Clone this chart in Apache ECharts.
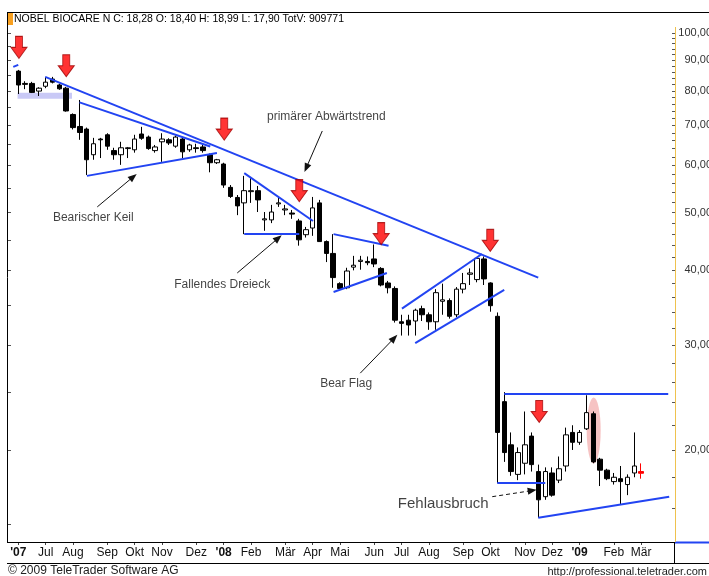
<!DOCTYPE html>
<html>
<head>
<meta charset="utf-8">
<title>NOBEL BIOCARE N</title>
<script src="https://cdn.jsdelivr.net/npm/echarts@6.0.0/dist/echarts.min.js"></script>
<style>
  html, body { margin: 0; padding: 0; background: #fff; }
  #chart { width: 709px; height: 576px; }
</style>
</head>
<body>
<div id="chart"></div>
<script>
// Wochenkerzen, Montag der jeweiligen Woche
var weeks = [
  '2007-06-04','2007-06-11','2007-06-18','2007-06-25','2007-07-02','2007-07-09','2007-07-16','2007-07-23','2007-07-30',
  '2007-08-06','2007-08-13','2007-08-20','2007-08-27','2007-09-03','2007-09-10','2007-09-17','2007-09-24',
  '2007-10-01','2007-10-08','2007-10-15','2007-10-22','2007-10-29','2007-11-05','2007-11-12','2007-11-19','2007-11-26',
  '2007-12-03','2007-12-10','2007-12-17','2007-12-24','2007-12-31','2008-01-07','2008-01-14','2008-01-21','2008-01-28',
  '2008-02-04','2008-02-11','2008-02-18','2008-02-25','2008-03-03','2008-03-10','2008-03-17','2008-03-24','2008-03-31',
  '2008-04-07','2008-04-14','2008-04-21','2008-04-28','2008-05-05','2008-05-12','2008-05-19','2008-05-26',
  '2008-06-02','2008-06-09','2008-06-16','2008-06-23','2008-06-30','2008-07-07','2008-07-14','2008-07-21','2008-07-28',
  '2008-08-04','2008-08-11','2008-08-18','2008-08-25','2008-09-01','2008-09-08','2008-09-15','2008-09-22','2008-09-29',
  '2008-10-06','2008-10-13','2008-10-20','2008-10-27','2008-11-03','2008-11-10','2008-11-17','2008-11-24',
  '2008-12-01','2008-12-08','2008-12-15','2008-12-22','2008-12-29','2009-01-05','2009-01-12','2009-01-19','2009-01-26',
  '2009-02-02','2009-02-09','2009-02-16','2009-02-23','2009-03-02'
];
var opens = [
  86.3,82.3,82.3,79.9,81.4,83.7,81.8,80.8,73.0,69.7,
  69.0,62.5,66.4,67.5,63.5,62.5,64.0,63.7,67.7,66.9,
  63.5,65.7,66.2,64.6,66.4,63.7,64.2,64.4,62.5,60.6,
  60.3,55.1,53.0,51.9,54.2,54.4,48.6,48.6,51.7,50.5,
  49.9,48.4,45.9,47.1,51.9,44.7,42.7,38.0,37.4,40.5,
  41.4,41.4,41.8,40.3,38.1,37.3,32.8,33.0,32.9,34.5,
  33.7,32.8,35.5,35.6,33.7,37.2,39.4,38.6,41.8,38.1,
  33.5,24.1,20.4,18.2,19.0,21.1,18.4,16.7,18.3,17.8,
  18.8,21.4,20.6,21.7,23.0,19.3,18.5,17.7,17.9,17.5,
  18.3,18.40
];
var closes = [
  81.8,82.0,79.5,80.8,82.7,82.7,80.6,74.0,69.4,68.1,
  61.3,65.2,66.2,64.6,62.5,64.2,64.2,66.4,66.6,64.0,
  64.4,66.4,65.4,66.9,63.2,64.9,64.0,63.5,60.6,61.3,
  55.6,53.2,51.3,54.4,54.4,52.5,48.8,50.1,51.9,50.7,
  49.7,45.0,46.8,50.9,44.7,42.7,38.9,37.3,39.9,40.8,
  41.6,41.2,41.0,37.8,37.4,33.0,32.6,32.4,34.3,33.7,
  32.8,36.7,35.7,33.5,37.2,38.0,39.6,41.9,38.7,34.9,
  21.4,19.8,18.4,19.8,20.4,18.9,16.5,18.4,16.8,18.6,
  21.2,20.6,21.4,23.1,19.1,18.5,17.9,18.0,17.7,18.0,
  18.8,18.28
];
var lows = [
  79.0,80.5,79.3,78.4,80.8,82.3,80.3,73.8,68.9,66.2,
  57.8,61.3,61.7,63.7,61.3,60.1,61.7,63.0,66.2,63.7,
  63.0,60.8,64.9,64.2,61.7,63.2,63.0,63.0,58.4,60.3,
  55.0,52.9,49.5,46.0,51.9,50.1,46.6,48.0,51.1,49.5,
  48.8,44.0,45.4,45.7,44.7,41.3,37.4,37.1,37.2,40.0,
  40.1,40.8,40.5,37.6,36.6,32.7,31.1,31.1,31.1,32.9,
  31.8,31.8,33.7,33.2,33.4,36.6,37.8,38.2,37.8,34.1,
  17.6,19.1,18.1,17.8,18.2,18.4,15.4,16.5,16.7,17.6,
  18.4,20.0,20.4,21.6,19.0,17.4,17.8,17.5,16.2,16.8,
  18.0,17.90
];
var highs = [
  86.7,83.0,82.8,81.1,84.4,84.4,82.2,81.2,73.3,77.2,
  69.4,66.7,66.7,67.9,64.2,65.7,64.4,67.5,69.6,67.3,
  64.9,67.9,66.6,67.3,66.9,65.2,65.2,65.0,62.8,61.5,
  60.6,55.6,53.5,57.6,57.1,55.4,50.1,51.5,53.0,51.5,
  50.5,48.8,47.3,53.1,52.5,44.9,46.0,38.2,40.4,42.3,
  42.3,42.2,44.2,40.5,38.4,37.6,33.7,33.7,34.5,34.9,
  34.0,37.2,38.0,35.9,37.5,39.6,40.3,42.0,42.2,38.2,
  34.0,25.0,21.4,20.2,23.2,21.4,18.9,18.7,18.7,19.5,
  21.8,22.0,21.6,24.7,23.2,19.4,18.6,18.3,18.8,18.2,
  21.4,18.99
];

// Monatsbeschriftung (Index in weeks)
var monthLabels = {
  0: "'07", 4: 'Jul', 8: 'Aug', 13: 'Sep', 17: 'Okt', 21: 'Nov', 26: 'Dez',
  30: "'08", 34: 'Feb', 39: 'Mär', 43: 'Apr', 47: 'Mai', 52: 'Jun', 56: 'Jul',
  60: 'Aug', 65: 'Sep', 69: 'Okt', 74: 'Nov', 78: 'Dez', 82: "'09", 87: 'Feb', 91: 'Mär'
};
var priceLabels = [20, 30, 40, 50, 60, 70, 80, 90, 100];
var priceTicks = [16,18,20,22,24,26,28,30,32,34,36,38,40,42,44,46,48,50,52,54,56,58,60,
  62,64,66,68,70,72,74,76,78,80,82,84,86,88,90,92,94,96,98,100];
var leftTicks = [15,20,25,30,35,40,45,50,55,60,65,70,75,80,85,90,95,100,105];

// Zeichnungen: [Wochenindex, Kurs]
var trendLines = [
  [[3.94, 84.4], [75.96, 38.9]],
  [[8.95, 76.5], [28.05, 64.5]],
  [[10.03, 57.6], [29.02, 62.9]],
  [[33.01, 58.2], [43.05, 48.4]],
  [[33.01, 46.0], [41.05, 46.0]],
  [[46.06, 46.0], [54.09, 44.0]],
  [[46.06, 36.8], [53.85, 39.6]],
  [[56.05, 34.5], [67.73, 42.6]],
  [[57.99, 30.2], [70.99, 37.1]],
  [[70.99, 24.8], [94.95, 24.8]],
  [[69.97, 17.6], [76.98, 17.6]],
  [[75.96, 15.4], [95.09, 16.7]],
  [[-0.73, 87.7], [0.0, 88.4]]
];
var pointers = [
  [[44.41, 68.5], [42.07, 59.4]],
  [[11.54, 51.1], [16.8, 57.4]],
  [[31.99, 39.6], [37.98, 45.3]],
  [[49.96, 26.9], [54.92, 30.8]]
];
var dashedPointer = [[69.24, 16.7], [75.08, 17.1]];
var signalArrows = [[0.1, 94.6], [7.01, 88.1], [30.09, 69.0], [41.05, 54.4], [53.02, 46.1], [68.95, 44.9], [76.1, 23.2]];
var notes = [
  { text: 'primärer Abwärtstrend', at: [45.0, 72.3] },
  { text: 'Bearischer Keil', at: [10.96, 49.0] },
  { text: 'Fallendes Dreieck', at: [29.8, 37.8] },
  { text: 'Bear Flag', at: [47.9, 25.8] },
  { text: 'Fehlausbruch', at: [62.08, 16.24], big: true }
];
var shadeBox = [[-0.1, 79.4], [7.85, 77.6]];
var ellipseAt = [84.06, 21.56];

var Y_MIN = 14.02, Y_MAX = 108;
var FONT = '"Liberation Sans", Arial, sans-serif';
var BLUE = '#2244f2';

var axisWeeks = ['2007-05-28'].concat(weeks, ['2009-03-09', '2009-03-16', '2009-03-23', '2009-03-30']);

var candles = weeks.map(function (w, i) {
  var item = { value: [i + 1, opens[i], closes[i], lows[i], highs[i]] };
  if (i === weeks.length - 1) {
    item.itemStyle = { color: '#f00', color0: '#f00', borderColor: '#f00', borderColor0: '#f00', borderColorDoji: '#f00' };
  }
  return item;
});

function showMonth(idx) {
  return monthLabels.hasOwnProperty(idx - 1);
}
function lg(v) { return Math.log10(v); }

var chart = echarts.init(document.getElementById('chart'));
chart.setOption({
  animation: false,
  backgroundColor: '#fff',
  grid: { left: 8, right: 37, top: 13, bottom: 34, containLabel: false, outerBoundsMode: 'none' },
  xAxis: [
    {
      type: 'category',
      data: axisWeeks,
      boundaryGap: true,
      axisLine: { show: false },
      axisTick: { show: true, interval: showMonth, alignWithLabel: true, length: 3, lineStyle: { color: '#444' } },
      axisLabel: {
        interval: showMonth,
        margin: 5,
        fontSize: 12,
        fontFamily: FONT,
        color: '#111',
        hideOverlap: false,
        formatter: function (val, idx) {
          var t = monthLabels[idx - 1];
          if (t === undefined) return '';
          return t.charAt(0) === "'" ? '{y|' + t + '}' : t;
        },
        rich: { y: { fontWeight: 'bold', fontSize: 12, fontFamily: FONT, color: '#111' } }
      },
      splitLine: { show: false }
    },
    { type: 'value', min: -1.5, max: 95.5, show: false }
  ],
  yAxis: [
    { type: 'log', logBase: 10, min: Y_MIN, max: Y_MAX, show: false },
    {
      type: 'value',
      min: lg(Y_MIN), max: lg(Y_MAX),
      position: 'right',
      offset: 3,
      axisLine: { show: false },
      splitLine: { show: false },
      axisTick: { show: true, inside: true, length: 3, customValues: priceTicks.map(lg), lineStyle: { color: '#555' } },
      axisLabel: {
        customValues: priceLabels.map(lg),
        align: 'right',
        margin: 37,
        fontSize: 11,
        fontFamily: FONT,
        color: '#333',
        formatter: function (v) { return Math.pow(10, v).toFixed(2).replace('.', ','); }
      }
    },
    {
      type: 'value',
      min: lg(Y_MIN), max: lg(Y_MAX),
      position: 'left',
      axisLine: { show: false },
      splitLine: { show: false },
      axisLabel: { show: false },
      axisTick: { show: true, inside: true, length: 3, customValues: leftTicks.map(lg), lineStyle: { color: '#555' } }
    }
  ],
  series: [
    {
      type: 'line', xAxisIndex: 1, yAxisIndex: 0, data: [], z: 1, silent: true,
      markArea: {
        silent: true,
        itemStyle: { color: '#c9c9f6' },
        data: [[{ coord: shadeBox[0] }, { coord: shadeBox[1] }]]
      }
    },
    {
      type: 'scatter', xAxisIndex: 1, yAxisIndex: 0, z: 1, silent: true,
      symbol: 'circle', symbolSize: [14, 66],
      itemStyle: { color: 'rgba(236,130,130,0.6)' },
      data: [ellipseAt]
    },
    {
      type: 'candlestick', xAxisIndex: 0, yAxisIndex: 0, z: 2, silent: true,
      barWidth: 5,
      encode: { x: 0, y: [1, 2, 3, 4] },
      itemStyle: { color: '#fff', color0: '#000', borderColor: '#000', borderColor0: '#000', borderColorDoji: '#000', borderWidth: 1 },
      data: candles
    },
    {
      type: 'line', xAxisIndex: 1, yAxisIndex: 0, data: [], z: 5, silent: true,
      markLine: {
        silent: true,
        symbol: ['none', 'none'],
        label: { show: false },
        lineStyle: { color: BLUE, width: 2, type: 'solid' },
        data: trendLines.map(function (s) { return [{ coord: s[0] }, { coord: s[1] }]; })
      }
    },
    {
      type: 'line', xAxisIndex: 1, yAxisIndex: 0, data: [], z: 5, silent: true,
      markLine: {
        silent: true,
        symbol: ['none', 'triangle'],
        symbolSize: [7, 9],
        label: { show: false },
        lineStyle: { color: '#111', width: 1, type: 'solid' },
        data: pointers.map(function (s) { return [{ coord: s[0] }, { coord: s[1] }]; }).concat([
          [{ coord: dashedPointer[0], lineStyle: { type: [4, 3] } }, { coord: dashedPointer[1] }]
        ])
      }
    },
    {
      type: 'scatter', xAxisIndex: 1, yAxisIndex: 0, z: 6, silent: true,
      symbol: 'path://M4.5,0H11.5V11H16L8,22L0,11H4.5Z',
      symbolSize: [16, 22],
      itemStyle: { color: '#ff0000', borderColor: '#a00000', borderWidth: 1 },
      data: signalArrows
    },
    {
      type: 'scatter', xAxisIndex: 1, yAxisIndex: 0, z: 6, silent: true,
      symbolSize: 1,
      itemStyle: { color: 'rgba(0,0,0,0)' },
      label: { show: true, position: 'inside', formatter: '{b}', fontSize: 12, fontFamily: FONT, color: '#111' },
      data: notes.map(function (n) {
        var d = { name: n.text, value: n.at };
        if (n.big) d.label = { fontSize: 15 };
        return d;
      })
    }
  ],
  graphic: [
    { type: 'rect', z: 10, shape: { x: 7, y: 13, width: 6, height: 12 }, style: { fill: '#f8a020' } },
    { type: 'text', z: 10, x: 14, y: 14, style: { text: 'NOBEL BIOCARE N C: 18,28 O: 18,40 H: 18,99 L: 17,90 TotV: 909771', font: '10.5px ' + FONT, fill: '#000' } },
    { type: 'line', z: 10, shape: { x1: 7, y1: 12.5, x2: 709, y2: 12.5 }, style: { stroke: '#000', lineWidth: 1 } },
    { type: 'line', z: 10, shape: { x1: 7.5, y1: 12.5, x2: 7.5, y2: 542.5 }, style: { stroke: '#000', lineWidth: 1 } },
    { type: 'line', z: 10, shape: { x1: 7, y1: 542.5, x2: 675, y2: 542.5 }, style: { stroke: '#000', lineWidth: 1 } },
    { type: 'line', z: 10, shape: { x1: 675, y1: 542.5, x2: 709, y2: 542.5 }, style: { stroke: BLUE, lineWidth: 2 } },
    { type: 'line', z: 10, shape: { x1: 7, y1: 563.5, x2: 709, y2: 563.5 }, style: { stroke: '#000', lineWidth: 1 } },
    { type: 'line', z: 10, shape: { x1: 674.5, y1: 542.5, x2: 674.5, y2: 563.5 }, style: { stroke: '#000', lineWidth: 1 } },
    { type: 'line', z: 10, shape: { x1: 675.5, y1: 27, x2: 675.5, y2: 542 }, style: { stroke: '#efc24e', lineWidth: 1 } },
    { type: 'text', z: 10, x: 8, y: 565, style: { text: '© 2009 TeleTrader Software AG', font: '12px ' + FONT, fill: '#222' } },
    { type: 'text', z: 10, x: 707, y: 566, style: { text: 'http://professional.teletrader.com', font: '11px ' + FONT, fill: '#222', align: 'right' } }
  ]
});
</script>
</body>
</html>
